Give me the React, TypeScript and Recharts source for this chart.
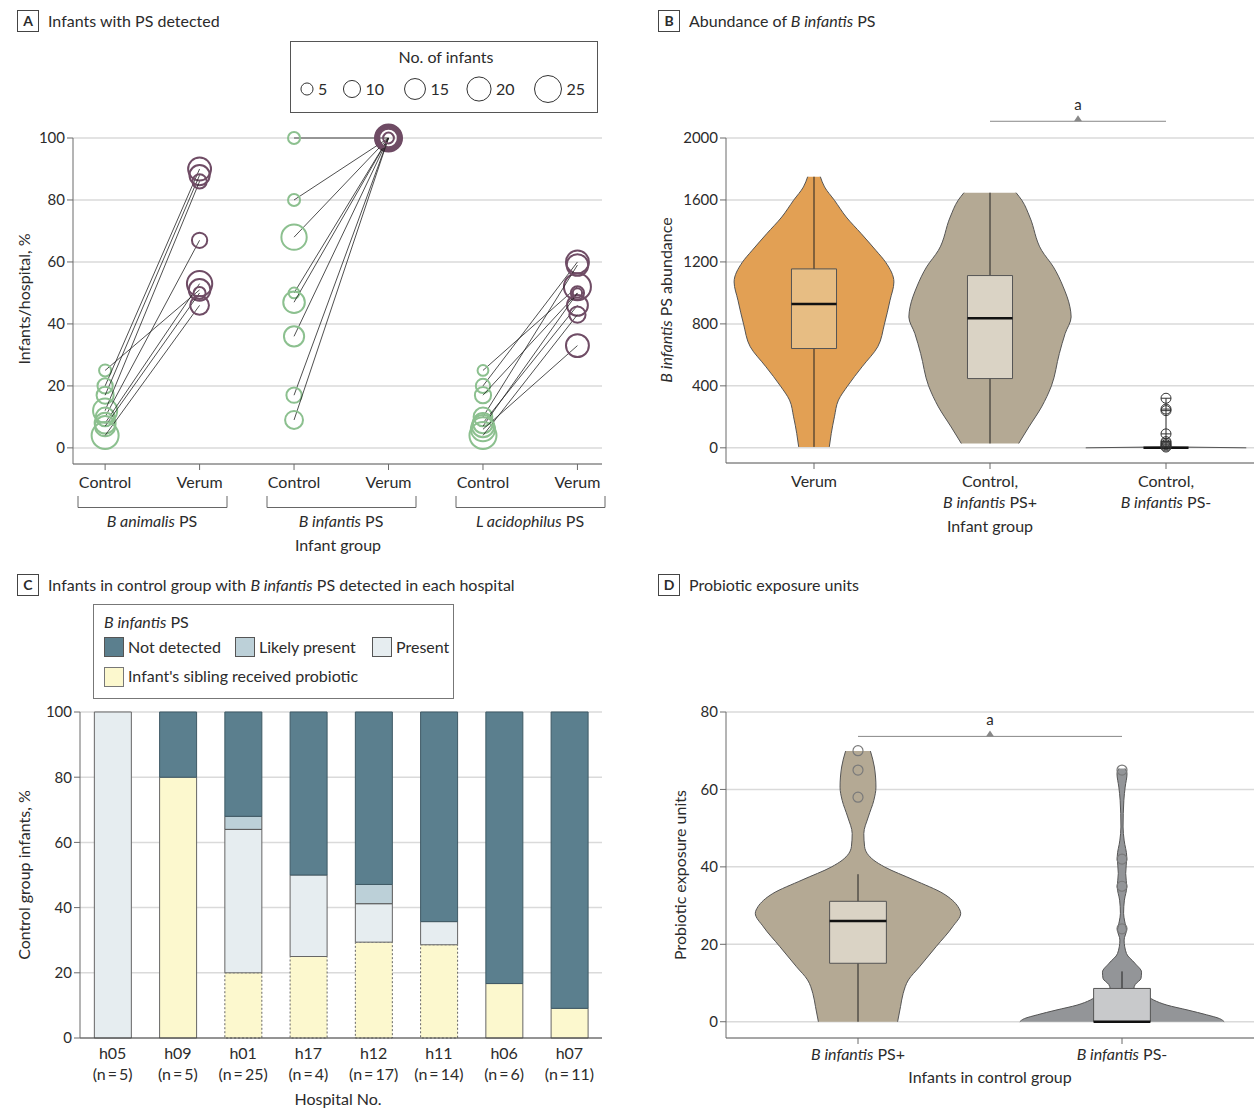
import React from 'react';
import {
  ComposedChart,
  BarChart,
  Bar,
  Cell,
  Scatter,
  Area,
  XAxis,
  YAxis,
  CartesianGrid,
  ReferenceArea,
  ReferenceLine,
  ReferenceDot,
} from 'recharts';

const FONT = 'Lato, "Open Sans", "DejaVu Sans", sans-serif';
const TXT = '#2b2b2b';
const AXIS = '#6b6b6b';
const GRID = '#dadada';
const GREEN = '#8cc08f';
const PURPLE = '#6f4c65';

// ---- A: infants with PS detected (percent per hospital, bubble = no. of infants)
const groupLabels = ['Control', 'Verum', 'Control', 'Verum', 'Control', 'Verum'];
const animalisControl = [25, 20, 17, 12, 10, 8, 7, 4];
const animalisControlN = [5, 8, 10, 20, 12, 15, 14, 25];
const animalisVerum = [51, 90, 88, 86, 67, 53, 50, 46];
const animalisVerumN = [16, 18, 14, 7, 8, 22, 5, 12];
const infantisControl = [100, 80, 68, 50, 47, 36, 17, 9];
const infantisControlN = [5, 5, 22, 4, 16, 14, 8, 11];
const infantisVerum = [100, 100, 100, 100, 100, 100, 100, 100];
const infantisVerumN = [25, 23, 21, 19, 17, 15, 12, 4];
const acidoControl = [25, 20, 17, 10, 8, 7, 4, 6];
const acidoControlN = [4, 7, 9, 12, 14, 17, 25, 20];
const acidoVerum = [52, 60, 50, 59, 46, 50, 43, 33];
const acidoVerumN = [25, 18, 6, 16, 15, 3, 9, 18];
const legendSizes = [5, 10, 15, 20, 25];

// ---- B: abundance of B infantis PS (violin outline: level -> half width)
const bTickTop = ['Verum', 'Control,', 'Control,'];
const bTickBottom = ['', 'PS+', 'PS-'];
const verumLevels = [6, 92, 200, 308, 398, 523, 652, 798, 953, 1071, 1198, 1275, 1383, 1490, 1598, 1684, 1750];
const verumWidths = [0.087, 0.098, 0.116, 0.139, 0.19, 0.273, 0.362, 0.4, 0.432, 0.454, 0.407, 0.351, 0.268, 0.183, 0.116, 0.06, 0.036];
const bPlusLevels = [28, 135, 264, 400, 609, 738, 845, 910, 1039, 1168, 1275, 1490, 1598, 1647];
const bPlusWidths = [0.163, 0.221, 0.293, 0.349, 0.394, 0.427, 0.461, 0.454, 0.416, 0.36, 0.293, 0.226, 0.181, 0.148];
const bMinusLevels = [0, 6];
const bMinusWidths = [0.456, 0.01];
const bQ1 = [641, 447, 0];
const bMedian = [929, 836, 0];
const bQ3 = [1155, 1112, 0];
const bLow = [6, 28, 0];
const bHigh = [1750, 1647, 320];
const bOutliers = [[], [], [320, 250, 240, 90, 40, 30, 20, 12, 5]];

// ---- C: control infants by hospital (%)
const hospitals = ['h05', 'h09', 'h01', 'h17', 'h12', 'h11', 'h06', 'h07'];
const hospitalN = [5, 5, 25, 4, 17, 14, 6, 11];
const siblingPct = [0, 80, 20, 25, 29.4, 28.6, 16.7, 9.1];
const presentPct = [100, 0, 44, 25, 11.8, 7.1, 0, 0];
const likelyPct = [0, 0, 4, 0, 5.9, 0, 0, 0];
const notDetectedPct = [0, 20, 32, 50, 52.9, 64.3, 83.3, 90.9];
const dashedSibling = ['h01', 'h17', 'h12', 'h11'];

// ---- D: probiotic exposure units
const dTickLabels = ['PS+', 'PS-'];
const dPlusLevels = [0, 3.9, 7.3, 10.8, 14.2, 19.4, 24.5, 28, 29.7, 33.1, 36.6, 40, 41.7, 45.2, 48.6, 52.9, 57.2, 60.6, 65.8, 69.9];
const dPlusWidths = [0.15, 0.161, 0.171, 0.191, 0.233, 0.296, 0.358, 0.389, 0.379, 0.323, 0.212, 0.1, 0.06, 0.025, 0.022, 0.039, 0.06, 0.068, 0.062, 0.047];
const dMinusLevels = [0, 0.8, 1.8, 3, 4.3, 5.6, 7, 8.6, 9.6, 11.2, 12.8, 15.1, 17.6, 21.1, 23.7, 26, 28, 31.4, 34.8, 38.3, 42.6, 46.9, 50.3, 57.2, 60.6, 64.1, 65.4];
const dMinusWidths = [0.387, 0.37, 0.32, 0.25, 0.17, 0.12, 0.09, 0.045, 0.05, 0.072, 0.074, 0.049, 0.017, 0.008, 0.017, 0.01, 0.006, 0.009, 0.018, 0.014, 0.018, 0.008, 0.004, 0.007, 0.012, 0.019, 0.012];
const dQ1 = [15.1, 0];
const dMedian = [26, 0];
const dQ3 = [31.1, 8.6];
const dLow = [0, 8.6];
const dHigh = [38.1, 13];
const dOutliers = [[70, 65, 58], [65, 42, 35, 24]];

const radius = (n: number) => 2.7 * Math.sqrt(n);

const pairs = (g: number, c: number[], cn: number[], v: number[], vn: number[]) =>
  c.map((cv, i) => [
    { x: g * 2, y: cv, n: cn[i], verum: false },
    { x: g * 2 + 1, y: v[i], n: vn[i], verum: true },
  ]);

const aSeries = [
  ...pairs(0, animalisControl, animalisControlN, animalisVerum, animalisVerumN),
  ...pairs(1, infantisControl, infantisControlN, infantisVerum, infantisVerumN),
  ...pairs(2, acidoControl, acidoControlN, acidoVerum, acidoVerumN),
];

const violinRows = (center: number, levels: number[], widths: number[]) =>
  levels.map((y, i) => ({ y, range: [center - widths[i], center + widths[i]] }));

const Bubble = (props: any) => {
  const { cx, cy, payload } = props;
  if (cx == null || cy == null) return <g />;
  return (
    <circle cx={cx} cy={cy} r={radius(payload.n)} fill="none"
      stroke={payload.verum ? PURPLE : GREEN} strokeWidth={2} />
  );
};

const CrossDot = (props: any) => (
  <g>
    <circle cx={props.cx} cy={props.cy} r={5} fill="none" stroke="#333" strokeWidth={1} />
    <line x1={props.cx - 5} x2={props.cx + 5} y1={props.cy} y2={props.cy} stroke="#333" />
  </g>
);

const GrayDot = (props: any) => (
  <circle cx={props.cx} cy={props.cy} r={5} fill="none" stroke="#7a7a7a" strokeWidth={1.2} />
);

const SigMark = (p: any) => (
  <g>
    <path d={`M${p.cx - 4},${p.cy} L${p.cx + 4},${p.cy} L${p.cx},${p.cy - 6} Z`} fill="#888" />
    <text x={p.cx} y={p.cy - 11} textAnchor="middle" fontSize={15} fill={TXT} fontFamily={FONT}>a</text>
  </g>
);

const BTick = ({ x, y, payload }: any) => {
  const i = Math.round(payload.value);
  return (
    <g fontFamily={FONT} fontSize={16} fill={TXT}>
      <text x={x} y={y + 16} textAnchor="middle">{bTickTop[i]}</text>
      {bTickBottom[i] ? (
        <text x={x} y={y + 37} textAnchor="middle">
          <tspan fontStyle="italic">B infantis</tspan>{' ' + bTickBottom[i]}
        </text>
      ) : null}
    </g>
  );
};

const DTick = ({ x, y, payload }: any) => (
  <text x={x} y={y + 13.5} textAnchor="middle" fontFamily={FONT} fontSize={16} fill={TXT}>
    <tspan fontStyle="italic">B infantis</tspan>{' ' + dTickLabels[Math.round(payload.value)]}
  </text>
);

const CTick = ({ x, y, payload }: any) => {
  const i = hospitals.indexOf(payload.value);
  return (
    <g fontFamily={FONT} fontSize={16} fill={TXT}>
      <text x={x} y={y + 19} textAnchor="middle">{payload.value}</text>
      <text x={x} y={y + 40} textAnchor="middle">{`(n\u2009=\u2009${hospitalN[i]})`}</text>
    </g>
  );
};

const numTick = { fontSize: 15, fill: TXT, fontFamily: FONT };

function ViolinChart({ width, height, margin, yDomain, yTicks, xDomain, xTicks, tick, violins, boxHalf, sig, dot }: any) {
  return (
    <ComposedChart layout="vertical" width={width} height={height} margin={margin}>
      <CartesianGrid vertical={false} stroke={GRID} strokeWidth={1.5} />
      <XAxis type="number" dataKey="x" domain={xDomain} ticks={xTicks} allowDataOverflow interval={0}
        tickSize={6} tickMargin={2} stroke={AXIS} tick={tick} height={30} />
      <YAxis type="number" dataKey="y" domain={yDomain} ticks={yTicks} reversed interval={0}
        width={60} tickSize={6} stroke={AXIS} tick={numTick} />
      {violins.map((v: any, i: number) => (
        <Area key={'v' + i} data={violinRows(i, v.levels, v.widths)} dataKey="range" type="monotone"
          fill={v.fill} fillOpacity={1} stroke="#555" strokeWidth={1} isAnimationActive={false} />
      ))}
      {violins.map((v: any, i: number) => (
        <ReferenceLine key={'w' + i} zIndex={101} segment={[{ x: i, y: v.low }, { x: i, y: v.high }]}
          stroke="#222" strokeWidth={1} />
      ))}
      {violins.map((v: any, i: number) =>
        v.q3 > v.q1 ? (
          <ReferenceArea key={'b' + i} zIndex={102} x1={i - boxHalf} x2={i + boxHalf} y1={v.q1} y2={v.q3}
            fill={v.boxFill} fillOpacity={1} stroke="#555" strokeWidth={1} />
        ) : null
      )}
      {violins.map((v: any, i: number) => (
        <ReferenceLine key={'m' + i} zIndex={103}
          segment={[{ x: i - boxHalf, y: v.median }, { x: i + boxHalf, y: v.median }]}
          stroke="#111" strokeWidth={2.5} />
      ))}
      {violins.map((v: any, i: number) => (
        <Scatter key={'o' + i} data={v.outliers.map((y: number) => ({ x: i, y }))} shape={dot}
          isAnimationActive={false} />
      ))}
      <ReferenceLine segment={[{ x: sig.x1, y: sig.y }, { x: sig.x2, y: sig.y }]} stroke="#888"
        strokeWidth={1} ifOverflow="visible" zIndex={700} />
      <ReferenceDot x={(sig.x1 + sig.x2) / 2} y={sig.y} r={4} ifOverflow="visible" shape={SigMark} zIndex={700} />
    </ComposedChart>
  );
}

const PanelTitle = ({ x, y, letter, children }: any) => (
  <g fontFamily={FONT} fill={TXT}>
    <rect x={x + 0.5} y={y + 0.5} width={21} height={21} fill="#fff" stroke="#444" />
    <text x={x + 11} y={y + 16} textAnchor="middle" fontWeight={700} fontSize={14}>{letter}</text>
    <text x={x + 31} y={y + 16.5} fontSize={16}>{children}</text>
  </g>
);

const legendX = [307, 352, 415, 479, 548];
const bracketLeft = [78, 267, 456];

function Overlay() {
  return (
    <svg width={1254} height={1109} style={{ position: 'absolute', left: 0, top: 0 }}
      fontFamily={FONT} fill={TXT}>
      <PanelTitle x={17} y={10} letter="A">Infants with PS detected</PanelTitle>
      <PanelTitle x={658} y={10} letter="B">
        Abundance of <tspan fontStyle="italic">B infantis</tspan> PS
      </PanelTitle>
      <PanelTitle x={17} y={574} letter="C">
        Infants in control group with <tspan fontStyle="italic">B infantis</tspan> PS detected in each hospital
      </PanelTitle>
      <PanelTitle x={658} y={574} letter="D">Probiotic exposure units</PanelTitle>

      {/* A legend */}
      <rect x={290.5} y={41.5} width={307} height={71} fill="none" stroke="#555" />
      <text x={446} y={63} textAnchor="middle" fontSize={16}>No. of infants</text>
      {legendSizes.map((n, i) => (
        <g key={n}>
          <circle cx={legendX[i]} cy={89} r={radius(n)} fill="none" stroke="#333" strokeWidth={1} />
          <text x={legendX[i] + radius(n) + 5} y={94.5} fontSize={16}>{n}</text>
        </g>
      ))}

      {/* A group brackets */}
      {bracketLeft.map((l, i) => (
        <path key={i} d={`M${l},496 V507.5 H${l + 149} V496`} fill="none" stroke="#666" />
      ))}
      <text x={152} y={527} textAnchor="middle" fontSize={16}><tspan fontStyle="italic">B animalis</tspan> PS</text>
      <text x={341} y={527} textAnchor="middle" fontSize={16}><tspan fontStyle="italic">B infantis</tspan> PS</text>
      <text x={530} y={527} textAnchor="middle" fontSize={16}><tspan fontStyle="italic">L acidophilus</tspan> PS</text>
      <text x={338} y={551} textAnchor="middle" fontSize={16}>Infant group</text>
      <text transform="translate(30,299) rotate(-90)" textAnchor="middle" fontSize={16}>Infants/hospital, %</text>

      {/* B */}
      <text x={990} y={532} textAnchor="middle" fontSize={16}>Infant group</text>
      <text transform="translate(672,300) rotate(-90)" textAnchor="middle" fontSize={16}>
        <tspan fontStyle="italic">B infantis</tspan> PS abundance
      </text>

      {/* C legend */}
      <rect x={93.5} y={604.5} width={360} height={94} fill="none" stroke="#777" />
      <text x={104} y={628} fontSize={16}><tspan fontStyle="italic">B infantis</tspan> PS</text>
      <rect x={104.5} y={637.5} width={19} height={19} fill="#5b7f8e" stroke="#555" />
      <text x={128} y={652.5} fontSize={16}>Not detected</text>
      <rect x={235.5} y={637.5} width={19} height={19} fill="#bcd0d8" stroke="#555" />
      <text x={259} y={652.5} fontSize={16}>Likely present</text>
      <rect x={372.5} y={637.5} width={19} height={19} fill="#e6edf0" stroke="#555" />
      <text x={396} y={652.5} fontSize={16}>Present</text>
      <rect x={104.5} y={667.5} width={19} height={19} fill="#fcf8ce" stroke="#777" />
      <text x={128} y={682} fontSize={16}>Infant's sibling received probiotic</text>
      <text x={338} y={1105} textAnchor="middle" fontSize={16}>Hospital No.</text>
      <text transform="translate(30,875) rotate(-90)" textAnchor="middle" fontSize={16}>Control group infants, %</text>

      {/* D */}
      <text x={990} y={1083} textAnchor="middle" fontSize={16}>Infants in control group</text>
      <text transform="translate(686,875) rotate(-90)" textAnchor="middle" fontSize={16}>Probiotic exposure units</text>
    </svg>
  );
}

export default function App() {
  const cData = hospitals.map((h, i) => ({
    h,
    sibling: siblingPct[i],
    present: presentPct[i],
    likely: likelyPct[i],
    notDetected: notDetectedPct[i],
  }));

  const bViolins = [
    { levels: verumLevels, widths: verumWidths, fill: '#e2a054', boxFill: '#e7bd83' },
    { levels: bPlusLevels, widths: bPlusWidths, fill: '#b4a994', boxFill: '#dad3c5' },
    { levels: bMinusLevels, widths: bMinusWidths, fill: '#939598', boxFill: '#c8c9cb' },
  ].map((v, i) => ({ ...v, q1: bQ1[i], median: bMedian[i], q3: bQ3[i], low: bLow[i], high: bHigh[i], outliers: bOutliers[i] }));

  const dViolins = [
    { levels: dPlusLevels, widths: dPlusWidths, fill: '#b4a994', boxFill: '#dad3c5' },
    { levels: dMinusLevels, widths: dMinusWidths, fill: '#939598', boxFill: '#c8c9cb' },
  ].map((v, i) => ({ ...v, q1: dQ1[i], median: dMedian[i], q3: dQ3[i], low: dLow[i], high: dHigh[i], outliers: dOutliers[i] }));

  return (
    <div style={{ position: 'absolute', left: 0, top: 0, width: 1254, height: 1109, background: '#fff', fontFamily: FONT }}>
      <Overlay />

      {/* A */}
      <div style={{ position: 'absolute', left: 0, top: 0 }}>
        <ComposedChart width={620} height={560} margin={{ top: 138, right: 18, bottom: 66, left: 13 }}>
          <CartesianGrid vertical={false} stroke={GRID} strokeWidth={1.5} />
          <XAxis type="number" dataKey="x" domain={[-0.34, 5.26]} ticks={[0, 1, 2, 3, 4, 5]}
            interval={0} tickFormatter={(v: number) => groupLabels[v]} tickSize={6} tickMargin={7} height={30}
            stroke={AXIS} tick={{ fontSize: 16, fill: TXT, fontFamily: FONT }} />
          <YAxis type="number" dataKey="y" domain={[-5.2, 100]} ticks={[0, 20, 40, 60, 80, 100]}
            interval={0} width={60} tickSize={6} stroke={AXIS} tick={numTick} />
          {aSeries.map((s, i) => (
            <Scatter key={i} data={s} shape={Bubble} line={{ stroke: '#222', strokeWidth: 0.8 }} lineType="joint"
              isAnimationActive={false} />
          ))}
        </ComposedChart>
      </div>

      {/* B */}
      <div style={{ position: 'absolute', left: 640, top: 0 }}>
        <ViolinChart width={614} height={560} margin={{ top: 138, right: 0, bottom: 67, left: 26 }}
          yDomain={[-98, 2000]} yTicks={[0, 400, 800, 1200, 1600, 2000]} xDomain={[-0.5, 2.5]} xTicks={[0, 1, 2]}
          tick={<BTick />} violins={bViolins} boxHalf={0.128} sig={{ x1: 1, x2: 2, y: 2108 }} dot={CrossDot} />
      </div>

      {/* C */}
      <div style={{ position: 'absolute', left: 0, top: 570 }}>
        <BarChart width={620} height={539} data={cData} margin={{ top: 142, right: 18, bottom: 41, left: 20 }}
          barCategoryGap="22%">
          <CartesianGrid vertical={false} stroke={GRID} strokeWidth={1.5} />
          <XAxis dataKey="h" interval={0} tickSize={0} tickMargin={2} height={30} stroke="#444" tick={<CTick />} />
          <YAxis type="number" domain={[0, 100]} ticks={[0, 20, 40, 60, 80, 100]} interval={0} width={60}
            tickSize={6} stroke={AXIS} tick={numTick} />
          <Bar dataKey="sibling" stackId="s" fill="#fcf8ce" stroke="#666" strokeWidth={1} isAnimationActive={false}>
            {cData.map((d, i) => (
              <Cell key={i} strokeDasharray={dashedSibling.includes(d.h) ? '2 2' : undefined} />
            ))}
          </Bar>
          <Bar dataKey="present" stackId="s" fill="#e6edf0" stroke="#666" strokeWidth={1} isAnimationActive={false} />
          <Bar dataKey="likely" stackId="s" fill="#bcd0d8" stroke="#555" strokeWidth={1} isAnimationActive={false} />
          <Bar dataKey="notDetected" stackId="s" fill="#5b7f8e" stroke="#3f5a66" strokeWidth={1} isAnimationActive={false} />
        </BarChart>
      </div>

      {/* D */}
      <div style={{ position: 'absolute', left: 640, top: 570 }}>
        <ViolinChart width={614} height={539} margin={{ top: 142, right: 0, bottom: 41, left: 26 }}
          yDomain={[-4.2, 80]} yTicks={[0, 20, 40, 60, 80]} xDomain={[-0.5, 1.5]} xTicks={[0, 1]}
          tick={<DTick />} violins={dViolins} boxHalf={0.1075} sig={{ x1: 0, x2: 1, y: 73.7 }} dot={GrayDot} />
      </div>
    </div>
  );
}
